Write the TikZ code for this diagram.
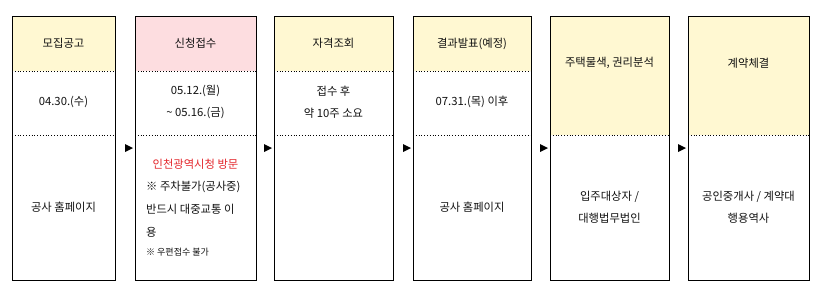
\documentclass[tikz,border=0pt]{standalone}
\usepackage{fontspec}
\setmainfont{Noto Sans CJK KR}
\definecolor{hdryellow}{HTML}{FFF8D2}
\definecolor{hdrpink}{HTML}{FDDDE0}
\definecolor{txt}{HTML}{111111}
\definecolor{redtxt}{HTML}{E3262B}
\begin{document}
\begin{tikzpicture}[x=1pt,y=-1pt,
  sep/.style={draw=black,line width=0.8pt,dotted},
  lbl/.style={font=\fontsize{11.3}{13}\selectfont,text=txt,inner sep=0pt},
  small/.style={font=\fontsize{9}{10}\selectfont,text=txt,inner sep=0pt},
  marker/.style={fill=black}]
\useasboundingbox (0,0) rectangle (821,293);
% columns: left, right
\foreach \n/\l/\r in {a/12/115,b/135/256,c/274/393,d/413/531,e/550/669,f/688/809}{
  \coordinate (\n-tl) at (\l,16);
  \coordinate (\n-br) at (\r,280);
}
% header fills
\fill[hdryellow] (12,16) rectangle (115,71);
\fill[hdrpink] (135,16) rectangle (256,71);
\fill[hdryellow] (274,16) rectangle (393,71);
\fill[hdryellow] (413,16) rectangle (531,71);
\fill[hdryellow] (550,16) rectangle (669,135);
\fill[hdryellow] (688,16) rectangle (809,135);
% dotted separators
\foreach \l/\r in {12/115,135/256,274/393,413/531}{
  \draw[sep] (\l,71) -- (\r,71);
  \draw[sep] (\l,135) -- (\r,135);
}
\foreach \l/\r in {550/669,688/809}{
  \draw[sep] (\l,135) -- (\r,135);
}
% outlines
\foreach \n in {a,b,c,d,e,f}{
  \draw[line width=0.8pt] (\n-tl) rectangle (\n-br);
}
% markers
\foreach \n/\l in {mb/135,mc/274,md/413,me/550,mf/688}{
  \coordinate (\n) at (\l-2,148);
  \fill[marker] (\n) -- ++(-8,-4) -- ++(0,8) -- cycle;
}
% headers
\node[lbl] (ha) at (63.5,43.5) {모집공고};
\node[lbl] (hb) at (195.5,43.5) {신청접수};
\node[lbl] (hc) at (333.5,43.5) {자격조회};
\node[lbl] (hd) at (472,43.5) {결과발표(예정)};
\node[lbl] (he) at (609.5,63) {주택물색, 권리분석};
\node[lbl] (hf) at (748.5,63) {계약체결};
% middle
\node[lbl] (ma) at (63.5,102) {04.30.(수)};
\node[lbl] (mb1) at (195.5,91) {05.12.(월)};
\node[lbl] (mb2) at (195.5,113) {\textasciitilde{} 05.16.(금)};
\node[lbl] (mc1) at (333.5,91) {접수 후};
\node[lbl] (mc2) at (333.5,113) {약 10주 소요};
\node[lbl] (md) at (472,102) {07.31.(목) 이후};
% bottom
\node[lbl] (ba) at (63.5,207) {공사 홈페이지};
\node[lbl,text=redtxt] (bb1) at (195.5,164) {인천광역시청 방문};
\node[lbl,anchor=west] (bb2) at (146,187) {※ 주차불가(공사중)};
\node[lbl,anchor=west] (bb3) at (146,209) {반드시 대중교통 이};
\node[lbl,anchor=west] (bb4) at (146,232) {용};
\node[small,anchor=west] (bb5) at (146,252) {※ 우편접수 불가};
\node[lbl] (bd) at (472,207) {공사 홈페이지};
\node[lbl] (be1) at (609.5,197) {입주대상자 /};
\node[lbl] (be2) at (609.5,218) {대행법무법인};
\node[lbl] (bf1) at (748.5,197) {공인중개사 / 계약대};
\node[lbl] (bf2) at (748.5,218) {행용역사};
\end{tikzpicture}
\end{document}
